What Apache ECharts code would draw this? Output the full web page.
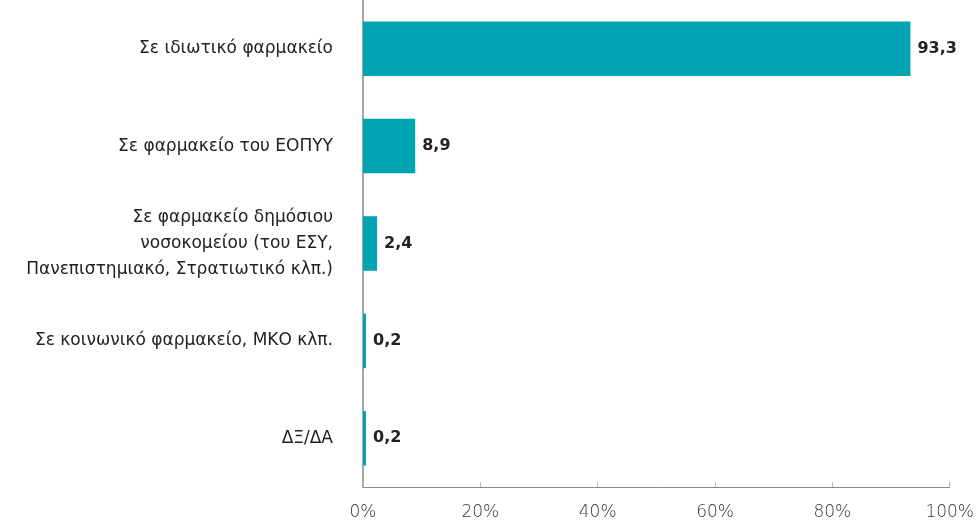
<!DOCTYPE html>
<html>
<head>
<meta charset="utf-8">
<script src="https://cdn.jsdelivr.net/npm/echarts@6/dist/echarts.min.js"></script>
<style>
  html, body { margin: 0; padding: 0; background: #fff; }
  #chart { width: 977px; height: 526px; }
</style>
</head>
<body>
<div id="chart"></div>
<script>
var categories = [
  'Σε ιδιωτικό φαρμακείο',
  'Σε φαρμακείο του ΕΟΠΥΥ',
  'Σε φαρμακείο δημόσιου\nνοσοκομείου (του ΕΣΥ,\nΠανεπιστημιακό, Στρατιωτικό κλπ.)',
  'Σε κοινωνικό φαρμακείο, ΜΚΟ κλπ.',
  'ΔΞ/ΔΑ'
];
var values = [93.3, 8.9, 2.4, 0.2, 0.2];

var myChart = echarts.init(document.getElementById('chart'));

// multi-line label sits a little higher than its bar in the original
var categoryData = categories.map(function (c) {
  if (c.indexOf('\n') >= 0) {
    return { value: c, textStyle: { padding: [0, 0, 14, 0] } };
  }
  return c;
});

var option = {
  textStyle: { fontFamily: '"DejaVu Sans", sans-serif' },
  grid: { left: 363, right: 27, top: 0, bottom: 39 },
  xAxis: {
    type: 'value',
    min: 0,
    max: 100,
    interval: 20,
    axisLine: { show: true, lineStyle: { color: '#888', width: 1 } },
    axisTick: { show: true, inside: true, length: 5, lineStyle: { color: '#bbb' } },
    splitLine: { show: false },
    axisLabel: {
      formatter: '{value}%',
      color: '#333',
      fontSize: 17,
      fontWeight: 200,
      margin: 17
    }
  },
  yAxis: {
    type: 'category',
    inverse: true,
    data: categoryData,
    axisLine: { show: true, lineStyle: { color: '#888', width: 1.5 } },
    axisTick: { show: false },
    axisLabel: {
      color: '#222',
      fontSize: 17,
      lineHeight: 26,
      margin: 30,
      align: 'right'
    }
  },
  series: [
    {
      type: 'bar',
      data: values,
      barWidth: '56%',
      barMinHeight: 3,
      itemStyle: { color: '#00A4B2' },
      label: {
        show: true,
        position: 'right',
        distance: 7,
        color: '#222',
        fontSize: 16,
        fontWeight: 'bold',
        formatter: function (p) { return String(p.value).replace('.', ','); }
      }
    }
  ]
};
myChart.setOption(option);
</script>
</body>
</html>
